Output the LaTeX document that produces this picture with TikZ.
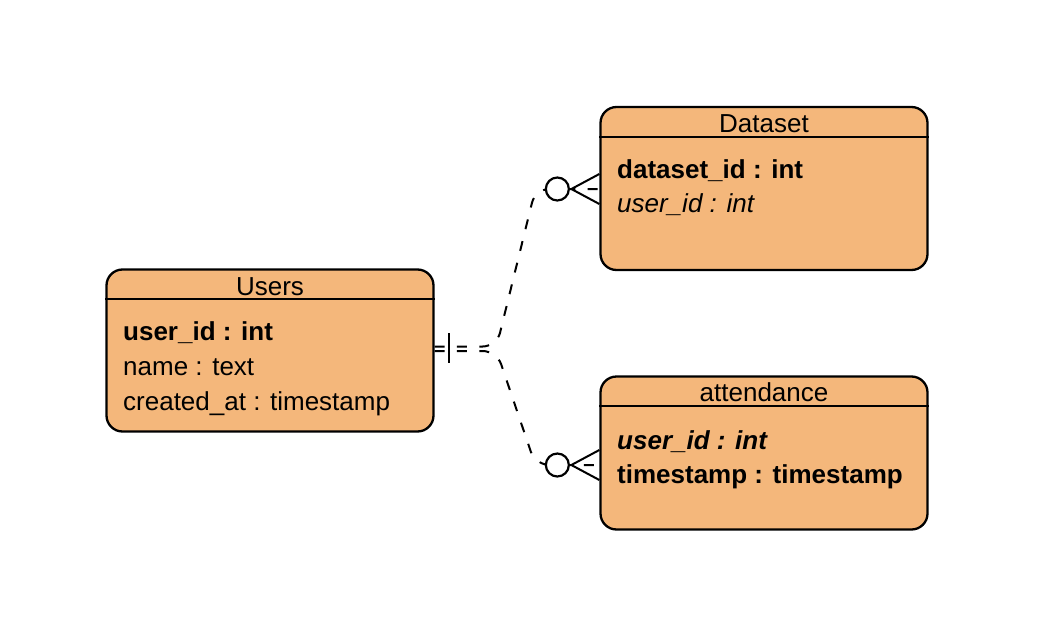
\documentclass[tikz,border=0pt]{standalone}
\usepackage{fontspec}
\setmainfont{Liberation Sans}
\usetikzlibrary{calc}
\definecolor{entfill}{RGB}{244,183,123}
\begin{document}
\begin{tikzpicture}[x=1pt,y=-1pt,
  entity/.style={draw, line width=2.3pt, fill=entfill, rounded corners=16pt, inner sep=0pt, minimum width=327pt},
  divider/.style={line width=2pt},
  attr/.style={anchor=base west, inner sep=0pt, font=\fontsize{26}{31}\selectfont},
  title/.style={anchor=base, inner sep=0pt, font=\fontsize{26}{31}\selectfont},
  rel/.style={line width=2pt, dash pattern=on 10pt off 12.3pt, rounded corners=14pt},
  zerocirc/.style={circle, draw, fill=white, line width=2.2pt, minimum size=23pt, inner sep=0pt},
  crow/.style={line width=2pt},
  bar/.style={line width=2.2pt}]
\useasboundingbox (0,0) rectangle (1041,621);
\fill[white] (0,0) rectangle (1041,621);

% entities
\node[entity, minimum height=162pt] (users) at (270,350.5) {};
\node[entity, minimum height=163pt] (dataset) at (764,188.5) {};
\node[entity, minimum height=153pt] (att) at (764,453) {};

\draw[divider] ($(users.north west)+(0,31)$) -- ($(users.north east)+(0,31)$);
\draw[divider] ($(dataset.north west)+(0,31)$) -- ($(dataset.north east)+(0,31)$);
\draw[divider] ($(att.north west)+(0,31)$) -- ($(att.north east)+(0,31)$);

% titles
\node[title] (usersT) at (270,295) {Users};
\node[title] (datasetT) at (764,132) {Dataset};
\node[title] (attT) at (764,401) {attendance};

% attributes
\node[attr] (u1) at (123,340) {\bfseries user\_id : int};
\node[attr] (u2) at (123,375) {name : text};
\node[attr] (u3) at (123,410) {created\_at : timestamp};

\node[attr] (d1) at (617,178) {\bfseries dataset\_id : int};
\node[attr] (d2) at (617,212.5) {\itshape user\_id : int};

\node[attr] (a1) at (617,449) {\bfseries\itshape user\_id : int};
\node[attr] (a2) at (617,483.5) {\bfseries timestamp : timestamp};

% connector end points
\coordinate (ua) at ($(users.east)+(0,-4)$);
\coordinate (ub) at ($(users.east)+(0,0.5)$);
\coordinate (da) at ($(dataset.west)+(0,0.5)$);
\coordinate (ab) at ($(att.west)+(0,12)$);

% relations
\draw[rel] (ua) -- ++(62,0) -- ($(da)+(-64,0)$) -- (da);
\draw[rel] (ub) -- ++(62,0) -- ($(ab)+(-64,0)$) -- (ab);

% one-side bar
\draw[bar] ($(users.east)+(14,-17.5)$) -- ($(users.east)+(14,12.5)$);

% zero-or-many markers
\node[zerocirc] (c1) at ($(da)+(-42,0)$) {};
\node[zerocirc] (c2) at ($(ab)+(-42,0)$) {};
\draw[crow] ($(da)+(0,-15)$) -- ($(da)+(-28,0)$) -- ($(da)+(0,15)$);
\draw[crow] ($(ab)+(0,-15)$) -- ($(ab)+(-28,0)$) -- ($(ab)+(0,15)$);
\end{tikzpicture}
\end{document}
